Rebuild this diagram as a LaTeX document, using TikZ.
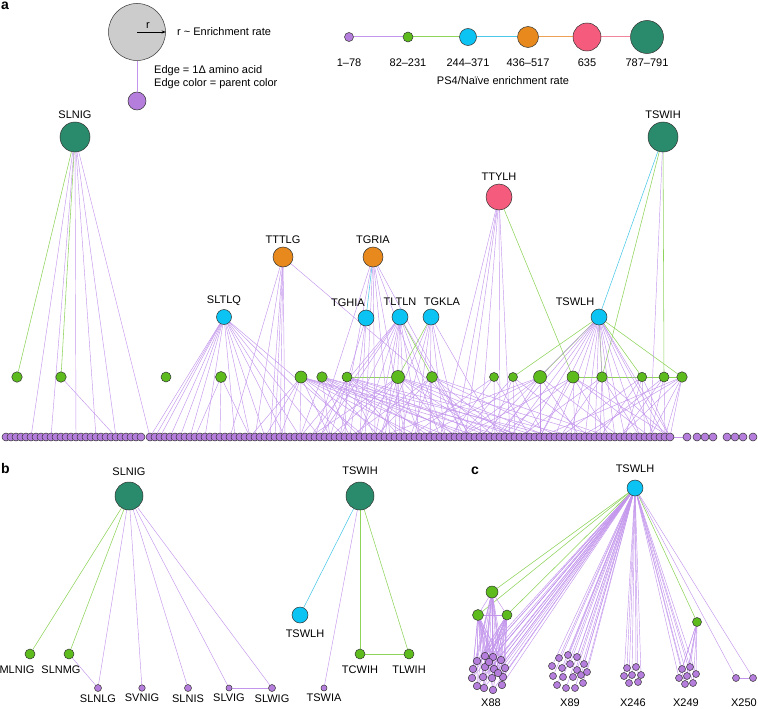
\documentclass[tikz,border=0pt]{standalone}
\usepackage{fontspec}
\setmainfont{Liberation Sans}
\usetikzlibrary{positioning, arrows.meta, backgrounds}

\definecolor{vpurple}{HTML}{B57EDC}
\definecolor{vgreen}{HTML}{5DBB1E}
\definecolor{vcyan}{HTML}{0BC4F4}
\definecolor{vorange}{HTML}{E8891D}
\definecolor{vpink}{HTML}{F45B7D}
\definecolor{vdark}{HTML}{2A8B6C}
\definecolor{epurple}{HTML}{C396EC}
\definecolor{egreen}{HTML}{8ED35A}
\definecolor{ecyan}{HTML}{4CC8E8}
\definecolor{eorange}{HTML}{EFA055}
\definecolor{epink}{HTML}{F2849E}

\begin{document}
\begin{tikzpicture}[x=1pt, y=-1pt, font=\fontsize{11}{13}\selectfont,
    nd/.style={circle, draw=black!80, line width=0.5pt, inner sep=0pt},
    pnode/.style={nd, fill=vpurple, minimum size=8pt},
    gnode/.style={nd, fill=vgreen, minimum size=10pt},
    cnode/.style={nd, fill=vcyan, minimum size=16pt},
    onode/.style={nd, fill=vorange, minimum size=20pt},
    rnode/.style={nd, fill=vpink, minimum size=26pt},
    dnode/.style={nd, fill=vdark, minimum size=30pt},
    pedge/.style={epurple, line width=0.45pt},
    gedge/.style={egreen, line width=0.55pt},
    cedge/.style={ecyan, line width=0.55pt},
    txt/.style={inner sep=1pt},
    panel/.style={font=\fontsize{14}{14}\selectfont\bfseries, anchor=north west, inner sep=0pt}]

    \useasboundingbox (0,0) rectangle (758,709);

    \node[panel] (pa) at (1,2) {a};
    \node[panel] (pb) at (1,463) {b};
    \node[panel] (pc) at (471,467) {c};

    % legend
    \node[nd, fill=black!20, minimum size=57pt] (lgbig) at (137,32) {};
    \node[pnode, minimum size=18pt] (lgsmall) at (137,101) {};
    \draw[epurple, line width=1pt] (lgbig) -- (lgsmall);
    \draw[-{Stealth[length=4pt]}, line width=0.5pt] (lgbig.center) -- (lgbig.east);
    \node[txt] (rlab) at (148,26) {r};
    \node[txt, anchor=west] (rtext) at (176,32) {r \textasciitilde{} Enrichment rate};
    \node[txt, anchor=west, align=left] (etext) at (153,77) {Edge = 1Δ amino acid\\Edge color = parent color};

    \foreach \n/\x/\s/\c/\t in {la/349/9/vpurple/1–78, lb/408/10/vgreen/82–231, lc/468/17/vcyan/244–371,
        ld/528/21/vorange/436–517, le/587/28/vpink/635, lf/647/33/vdark/787–791} {
        \node[nd, fill=\c, minimum size=\s pt] (\n) at (\x,37) {};
        \node[txt] (t\n) at (\x,63) {\t};
    }
    \node[txt] (lgtitle) at (503,81) {PS4/Naïve enrichment rate};
    \begin{pgfonlayer}{background}
        \draw[epurple, line width=1pt] (la) -- (lb);
        \draw[egreen, line width=1pt] (lb) -- (lc);
        \draw[ecyan, line width=1pt] (lc) -- (ld);
        \draw[eorange, line width=1pt] (ld) -- (le);
        \draw[epink, line width=1pt] (le) -- (lf);
    \end{pgfonlayer}

    % panel a
    \node[dnode, label={above:SLNIG}] (slnig) at (75,137) {};
    \node[dnode, label={above:TSWIH}] (tswih) at (663,137) {};
    \node[rnode, label={above:TTYLH}] (ttylh) at (499,197) {};
    \node[onode, label={above:TTTLG}] (tttlg) at (283,257) {};
    \node[onode, label={above:TGRIA}] (tgria) at (373,257) {};
    \node[cnode, minimum size=15pt, label={above:SLTLQ}] (sltlq) at (224,317) {};
    \node[cnode, label={[xshift=-18pt]above:TGHIA}] (tghia) at (366,318) {};
    \node[cnode, label={above:TLTLN}] (tltln) at (400,317) {};
    \node[cnode, label={[xshift=11pt]above:TGKLA}] (tgkla) at (431,317) {};
    \node[cnode, label={[xshift=-24pt]above:TSWLH}] (tswlh) at (599,317) {};

    \foreach \n/\x/\s in {ga/17/10.5, gb/61/10.5, gc/166/10, gd/221/11, ge/301/12, gf/322/10.5,
        gg/347/10, gh/398/13, gi/432/11, gj/494/9, gk/513/9, gl/540/13, gm/573/12,
        gn/602/10.5, go/642/9.5, gp/664/10, gq/682/10.5}
        \node[gnode, minimum size=\s pt] (\n) at (\x,377) {};

    \foreach \x in {6,11,...,141} \node[pnode] (b\x) at (\x,437) {};
    \foreach \x in {150,155,...,670} \node[pnode] (b\x) at (\x,437) {};
    \foreach \x in {687,697,705,713,727,735,743,753} \node[pnode] (b\x) at (\x,437) {};

    \begin{pgfonlayer}{background}
        \draw[cedge] (tswih) -- (tswlh);
        \draw[cedge] (tgria) -- (tghia);
        \foreach \a/\b in {slnig/ga, slnig/gb, tgkla/gh, tltln/gi, ttylh/gm, tswlh/gk, tswlh/gl,
            tswlh/gn, tswlh/go, tswlh/gq, tswih/gn, tswih/gp, gg/gh, gm/gn, gn/go, go/gp, gp/gq}
            \draw[gedge] (\a) -- (\b);
        \draw[pedge] (b670) -- (b687);
        \foreach \t in {31,51,76,96,116,150} \draw[pedge] (slnig) -- (b\t);
        \foreach \t in {116} \draw[pedge] (gb) -- (b\t);
        \foreach \t in {195,220,250} \draw[pedge] (gd) -- (b\t);
        \foreach \t in {150,155,160,170,180,190,205,235,250,265,285,300,320,345,365} \draw[pedge] (sltlq) -- (b\t);
        \foreach \t in {230,255,270,275,280,285,495} \draw[pedge] (tttlg) -- (b\t);
        \foreach \t in {315,340,365,375,390,405,440,470} \draw[pedge] (tgria) -- (b\t);
        \foreach \t in {330,350,360} \draw[pedge] (tghia) -- (b\t);
        \foreach \t in {250,265,280,300,330,360,390,420,450,480,505,530} \draw[pedge] (ge) -- (b\t);
        \foreach \t in {300,330,350,380,410,440,470,520,555} \draw[pedge] (gf) -- (b\t);
        \foreach \t in {320,345,375,400,430,460,490,540,575} \draw[pedge] (gg) -- (b\t);
        \foreach \t in {300,310,320,340,360,375,385,395,405,420,445,470} \draw[pedge] (tltln) -- (b\t);
        \foreach \t in {380,400,415,430,445,460,500} \draw[pedge] (tgkla) -- (b\t);
        \foreach \t in {310,330,355,380,400,420,455,490,520,550,600} \draw[pedge] (gh) -- (b\t);
        \foreach \t in {350,375,410,430,465,510,560,610} \draw[pedge] (gi) -- (b\t);
        \foreach \t in {440,455,465,480,500,510} \draw[pedge] (ttylh) -- (b\t);
        \foreach \t in {410,450,495,530} \draw[pedge] (gj) -- (b\t);
        \foreach \t in {460,490,515,545,590} \draw[pedge] (gk) -- (b\t);
        \foreach \t in {380,420,460,500,540,580,620} \draw[pedge] (gl) -- (b\t);
        \foreach \t in {460,500,540,575,610,650,670} \draw[pedge] (gm) -- (b\t);
        \foreach \t in {480,495,510,525,540,555,570,585,595,605,615,625,640,655,665,670} \draw[pedge] (tswlh) -- (b\t);
        \foreach \t in {520,560,600,640,670} \draw[pedge] (gn) -- (b\t);
        \foreach \t in {560,600,625,645,670} \draw[pedge] (go) -- (b\t);
        \foreach \t in {590,620,650,665} \draw[pedge] (gp) -- (b\t);
        \foreach \t in {540,580,620,650,665,670} \draw[pedge] (gq) -- (b\t);
        \draw[pedge] (tswih) -- (b650);
    \end{pgfonlayer}

    % panel b
    \tikzset{every label/.append style={label distance=3pt}}
    \node[dnode, minimum size=28pt, label={above:SLNIG}] (slnigb) at (129,496) {};
    \node[gnode, label={[xshift=-13pt]below:MLNIG}] (mlnig) at (30,654) {};
    \node[gnode, label={[xshift=-8pt]below:SLNMG}] (slnmg) at (69,654) {};
    \tikzset{every label/.append style={label distance=1pt, inner sep=1.5pt}}
    \node[pnode, minimum size=7pt, label={below:SLNLG}] (slnlg) at (98,688) {};
    \node[pnode, minimum size=6.5pt, label={below:SVNIG}] (svnig) at (142,688) {};
    \node[pnode, minimum size=7pt, label={below:SLNIS}] (slnis) at (188,688) {};
    \node[pnode, minimum size=6pt, label={below:SLVIG}] (slvig) at (229,688) {};
    \node[pnode, minimum size=7pt, label={below:SLWIG}] (slwig) at (272,688) {};
    \node[pnode, minimum size=6pt, label={below:TSWIA}] (tswia) at (324,688) {};
    \tikzset{every label/.append style={label distance=3pt, inner sep=3.5pt}}
    \node[dnode, minimum size=28pt, label={above:TSWIH}] (tswihb) at (360,496) {};
    \node[cnode, label={[xshift=5pt]below:TSWLH}] (tswlhb) at (300,615) {};
    \node[gnode, label={below:TCWIH}] (tcwih) at (360,654) {};
    \node[gnode, label={below:TLWIH}] (tlwih) at (409,654) {};

    \begin{pgfonlayer}{background}
        \draw[gedge] (slnigb) -- (mlnig);
        \draw[gedge] (slnigb) -- (slnmg);
        \foreach \t in {slnlg,svnig,slnis,slvig,slwig} \draw[pedge] (slnigb) -- (\t);
        \draw[pedge] (slnmg) -- (slnlg);
        \draw[pedge] (slvig) -- (slwig);
        \draw[cedge] (tswihb) -- (tswlhb);
        \draw[pedge] (tswihb) -- (tswia);
        \draw[gedge] (tswihb) -- (tcwih);
        \draw[gedge] (tswihb) -- (tlwih);
        \draw[gedge] (tcwih) -- (tlwih);
    \end{pgfonlayer}

    % panel c
    \node[cnode, label={above:TSWLH}] (tswlhc) at (635,488) {};
    \node[gnode, minimum size=12pt] (g88a) at (492,592) {};
    \node[gnode, minimum size=11pt] (g88b) at (478,615) {};
    \node[gnode, minimum size=10pt] (g88c) at (507,615) {};
    \node[gnode, minimum size=9pt] (g249) at (697,622) {};

    \foreach \x/\y [count=\k] in {477/661, 485/656, 493/657, 501/660, 473/669, 485/667, 494/669, 505/668,
        472/678, 483/677, 492/678, 503/677, 477/686, 484/688, 493/690, 502/685, 489/662, 498/673}
        \node[pnode, minimum size=7.5pt] (xa\k) at (\x,\y) {};
    \foreach \x/\y [count=\k] in {559/658, 568/655, 577/657, 552/666, 562/668, 570/664, 577/670, 584/664,
        553/676, 563/677, 573/677, 581/675, 587/672, 557/685, 566/688, 575/688, 583/683}
        \node[pnode, minimum size=7pt] (xb\k) at (\x,\y) {};
    \foreach \x/\y [count=\k] in {627/668, 636/667, 624/676, 632/675, 641/675, 629/683, 638/682}
        \node[pnode, minimum size=7pt] (xc\k) at (\x,\y) {};
    \foreach \x/\y [count=\k] in {682/669, 690/667, 679/678, 687/676, 696/674, 685/684, 693/683}
        \node[pnode, minimum size=7pt] (xd\k) at (\x,\y) {};
    \node[pnode, minimum size=7pt] (xe1) at (736,678) {};
    \node[pnode, minimum size=7pt] (xe2) at (753,678) {};

    \node[txt, inner sep=0pt] (lx88) at (491,703) {X88};
    \node[txt, inner sep=0pt] (lx89) at (570,703) {X89};
    \node[txt, inner sep=0pt] (lx246) at (633,703) {X246};
    \node[txt, inner sep=0pt] (lx249) at (686,703) {X249};
    \node[txt, inner sep=0pt] (lx250) at (744,703) {X250};

    \begin{pgfonlayer}{background}
        \foreach \g in {g88a,g88b,g88c,g249} \draw[gedge] (tswlhc) -- (\g);
        \draw[pedge] (g88a) -- (g88b);
        \draw[pedge] (g88a) -- (g88c);
        \draw[pedge] (g88b) -- (g88c);
        \foreach \k in {1,...,18} {
            \draw[pedge] (tswlhc) -- (xa\k);
            \draw[pedge] (g88a) -- (xa\k);
            \draw[pedge] (g88b) -- (xa\k);
            \draw[pedge] (g88c) -- (xa\k);
        }
        \foreach \k in {1,...,17} \draw[pedge] (tswlhc) -- (xb\k);
        \foreach \k in {1,...,7} \draw[pedge] (tswlhc) -- (xc\k);
        \foreach \k in {1,...,7} {
            \draw[pedge] (tswlhc) -- (xd\k);
            \draw[pedge] (g249) -- (xd\k);
        }
        \draw[pedge] (tswlhc) -- (xe1);
        \draw[pedge] (tswlhc) -- (xe2);
        \draw[pedge] (xe1) -- (xe2);
    \end{pgfonlayer}
\end{tikzpicture}
\end{document}
